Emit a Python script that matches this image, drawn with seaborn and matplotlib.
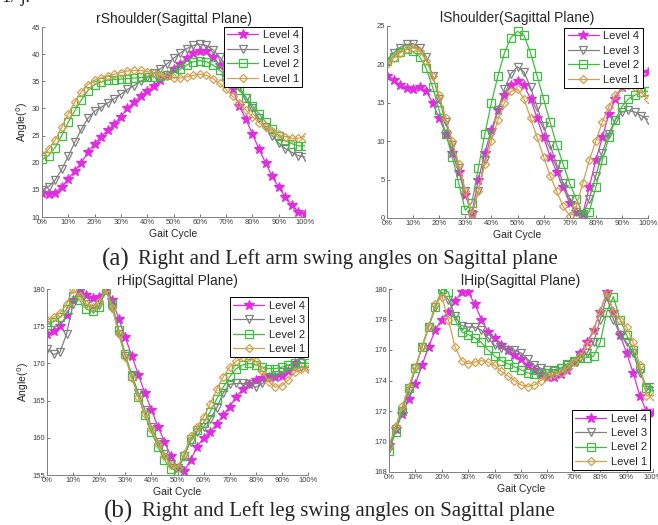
import numpy as np
import matplotlib.pyplot as plt
import seaborn as sns

# gait cycle grid (%), values every 2.5 %
gait = np.arange(0, 100.1, 2.5)
levels = ["Level 4", "Level 3", "Level 2", "Level 1"]

# rShoulder (sagittal)
rsh_l4 = [14.5, 14.3, 14.5, 15.5, 17.0, 18.5, 20.0, 22.0, 23.5, 24.8, 26.0, 27.2, 28.5, 30.0,
          31.2, 32.3, 33.2, 34.2, 35.2, 36.2, 37.2, 38.2, 39.2, 40.2, 40.6, 40.5, 39.5, 38.0,
          36.0, 33.5, 30.5, 28.0, 25.3, 22.5, 20.0, 17.5, 15.5, 13.7, 12.2, 11.0, 10.5]
rsh_l3 = [15.0, 15.6, 16.8, 18.8, 21.2, 23.8, 26.2, 28.2, 29.5, 30.2, 31.0, 31.8, 32.6, 33.5,
          34.2, 35.0, 35.7, 36.5, 37.3, 38.2, 39.2, 40.2, 41.0, 41.6, 41.8, 41.6, 40.8, 39.5,
          38.0, 36.0, 34.0, 32.0, 30.0, 28.2, 26.5, 25.0, 23.6, 22.6, 21.9, 21.3, 21.0]
rsh_l2 = [20.6, 21.3, 22.8, 25.0, 27.5, 29.6, 31.6, 33.3, 34.4, 34.9, 35.2, 35.3, 35.4, 35.5,
          35.6, 35.7, 35.8, 35.8, 35.9, 36.1, 36.5, 37.2, 38.0, 38.6, 38.8, 38.6, 38.0, 37.1,
          36.0, 34.8, 33.4, 32.0, 30.5, 29.0, 27.5, 26.2, 25.0, 24.1, 23.5, 23.1, 23.1]
rsh_l1 = [21.5, 22.5, 24.2, 26.5, 29.0, 31.2, 33.1, 34.4, 35.2, 35.6, 36.0, 36.3, 36.6, 36.9,
          37.0, 37.0, 36.8, 36.5, 36.2, 35.9, 35.6, 35.6, 35.8, 36.1, 36.3, 36.1, 35.5, 34.6,
          33.5, 32.2, 31.0, 29.7, 28.5, 27.4, 26.5, 25.8, 25.2, 24.8, 24.5, 24.5, 24.8]

# lShoulder (sagittal)
lsh_l4 = [18.5, 18.0, 17.3, 16.9, 16.8, 17.0, 16.5, 15.0, 13.0, 11.0, 8.5, 6.0, 3.0, 0.6,
          5.0, 8.5, 11.5, 14.0, 16.0, 17.3, 17.8, 17.3, 15.5, 13.0, 10.5, 8.0, 6.0, 4.0,
          2.0, 0.8, 0.5, 4.0, 7.5, 10.5, 13.5, 15.5, 17.0, 18.0, 18.7, 19.0, 19.0]
lsh_l3 = [20.5, 21.5, 22.2, 22.6, 22.7, 22.2, 21.0, 18.5, 15.5, 12.5, 9.5, 6.5, 3.5, 0.5,
          3.5, 7.5, 11.0, 14.0, 16.8, 18.8, 19.7, 19.0, 17.0, 14.5, 12.0, 9.5, 7.0, 4.5,
          2.5, 0.8, 0.3, 2.5, 5.5, 8.5, 11.0, 12.8, 13.8, 14.0, 13.8, 13.3, 12.8]
lsh_l2 = [20.5, 21.0, 21.6, 22.0, 21.7, 21.0, 19.5, 17.0, 14.0, 11.0, 8.0, 4.5, 1.0, 2.0,
          6.5, 11.0, 15.0, 18.5, 21.5, 23.5, 24.3, 23.8, 21.5, 18.5, 15.5, 12.5, 9.5, 7.0,
          4.5, 2.5, 0.5, 0.8, 4.0, 7.5, 10.5, 12.8, 14.5, 15.5, 16.0, 16.4, 16.5]
lsh_l1 = [20.0, 20.8, 21.5, 22.0, 22.2, 21.8, 20.5, 18.5, 16.0, 13.0, 10.0, 7.0, 3.5, 0.5,
          3.5, 7.0, 10.0, 12.8, 15.0, 16.5, 16.8, 15.5, 13.0, 10.5, 8.0, 5.5, 3.5, 1.5,
          0.3, 1.5, 4.5, 7.5, 10.0, 12.5, 14.5, 16.0, 17.0, 17.3, 17.0, 16.3, 15.5]

# rHip (sagittal)
rhip_l4 = [174.0, 174.3, 175.0, 176.5, 178.5, 180.0, 179.2, 178.8, 178.9, 180.0, 178.5, 176.0,
           173.5, 171.0, 168.5, 166.0, 163.8, 161.5, 159.5, 157.5, 156.0, 155.5, 157.0, 158.8,
           160.0, 160.8, 161.8, 163.0, 164.2, 165.5, 166.5, 167.2, 167.8, 168.0, 168.2, 168.2,
           168.3, 169.0, 170.0, 171.0, 171.8]
rhip_l3 = [172.0, 171.2, 171.5, 174.0, 178.0, 179.5, 178.0, 177.3, 177.8, 180.0, 177.5, 174.0,
           171.0, 168.5, 166.0, 163.8, 161.5, 159.5, 157.8, 156.5, 156.0, 157.5, 159.5, 160.8,
           161.5, 162.5, 164.0, 166.0, 167.2, 167.3, 167.3, 167.2, 166.8, 167.3, 168.0, 168.5,
           168.8, 169.2, 169.5, 169.5, 169.5]
rhip_l2 = [175.2, 175.6, 176.2, 177.3, 179.0, 178.5, 177.3, 177.0, 177.6, 179.8, 178.0, 174.5,
           171.2, 168.3, 165.5, 163.0, 160.8, 158.8, 157.0, 155.8, 155.6, 157.5, 159.8, 161.0,
           162.0, 163.5, 165.2, 166.8, 168.2, 169.3, 169.8, 170.0, 169.8, 169.5, 169.3, 169.3,
           169.5, 169.8, 170.0, 170.1, 170.0]
rhip_l1 = [175.8, 176.2, 176.8, 178.0, 180.0, 179.0, 178.0, 177.6, 178.2, 180.0, 177.5, 174.0,
           170.8, 168.0, 165.5, 163.2, 161.2, 159.2, 157.5, 156.3, 156.0, 157.8, 160.2, 161.5,
           162.8, 164.5, 166.5, 168.2, 169.5, 170.3, 170.8, 170.8, 170.3, 169.0, 167.5, 166.8,
           167.0, 167.8, 168.8, 169.2, 169.3]

# lHip (sagittal)
lhip_l4 = [169.8, 170.8, 171.8, 172.8, 173.8, 175.0, 176.2, 177.3, 178.0, 178.5, 179.2, 179.8,
           179.8, 179.0, 178.0, 177.2, 176.8, 176.3, 176.0, 175.7, 175.4, 175.0, 174.7, 174.4,
           174.2, 174.2, 174.4, 174.7, 175.2, 175.8, 176.5, 177.3, 178.5, 179.8, 178.5, 177.0,
           175.8, 174.5, 173.0, 172.0, 171.9]
lhip_l3 = [169.5, 170.8, 172.0, 173.3, 174.8, 176.2, 177.5, 178.8, 179.8, 179.3, 178.2, 177.6,
           177.5, 177.5, 177.3, 176.8, 176.3, 176.1, 176.0, 176.0, 175.8, 175.4, 175.0, 174.8,
           174.7, 174.7, 174.8, 175.0, 175.2, 175.5, 175.8, 176.5, 178.0, 179.5, 178.0, 177.0,
           176.5, 175.8, 174.5, 173.6, 173.6]
lhip_l2 = [169.4, 170.6, 172.0, 173.5, 174.8, 176.2, 177.5, 178.8, 180.0, 179.8, 178.0, 177.2,
           177.0, 176.8, 176.5, 176.0, 175.6, 175.3, 175.1, 174.9, 174.7, 174.5, 174.4, 174.4,
           174.5, 174.6, 174.8, 175.1, 175.3, 175.5, 175.5, 175.6, 176.5, 178.5, 179.5, 178.0,
           177.0, 176.0, 174.8, 173.5, 173.3]
lhip_l1 = [169.7, 171.0, 172.3, 173.6, 174.9, 176.2, 177.5, 179.0, 179.5, 178.0, 176.2, 175.3,
           175.1, 175.2, 175.3, 175.2, 175.0, 174.6, 174.3, 174.0, 173.7, 173.6, 173.7, 174.0,
           174.3, 174.4, 174.5, 174.8, 175.2, 175.6, 176.3, 177.3, 178.5, 179.8, 178.5, 178.0,
           177.5, 176.5, 175.0, 173.0, 173.0]

colors = ["#e02de0", "#808080", "#3cbf3c", "#d2a04e"]
markers = ["*", "v", "s", "D"]
msizes = [7.5, 5.5, 5.5, 4.5]
filled = [True, False, False, False]

sns.set_style("ticks")
plt.rcParams["font.family"] = ["Liberation Sans", "DejaVu Sans"]

fig = plt.figure(figsize=(6.58, 5.25), dpi=100)

def px_axes(left, top, right, bottom):
    W, H = 658, 525
    return fig.add_axes([left / W, 1 - bottom / H, (right - left) / W, (bottom - top) / H])

panels = [
    (px_axes(42, 27, 305, 217), "rShoulder(Sagittal Plane)", [rsh_l4, rsh_l3, rsh_l2, rsh_l1],
     (10, 45), np.arange(10, 46, 5), True, dict(loc="upper right", bbox_to_anchor=(0.99, 1.0))),
    (px_axes(387, 26, 648, 218), "lShoulder(Sagittal Plane)", [lsh_l4, lsh_l3, lsh_l2, lsh_l1],
     (0, 25), np.arange(0, 26, 5), False, dict(loc="upper right", bbox_to_anchor=(0.98, 0.99))),
    (px_axes(47, 289, 308, 475), "rHip(Sagittal Plane)", [rhip_l4, rhip_l3, rhip_l2, rhip_l1],
     (155, 180), np.arange(155, 181, 5), True, dict(loc="upper right", bbox_to_anchor=(1.0, 0.955))),
    (px_axes(389, 289, 653, 472), "lHip(Sagittal Plane)", [lhip_l4, lhip_l3, lhip_l2, lhip_l1],
     (168, 180), np.arange(168, 181, 2), False, dict(loc="lower right", bbox_to_anchor=(0.99, 0.01))),
]

for ax, title, series, ylim, yticks, ylab, leg in panels:
    for lev, vals, c, m, ms, f in zip(levels, series, colors, markers, msizes, filled):
        sns.lineplot(x=gait, y=vals, ax=ax, color=c, lw=0.9, marker=m,
                     markersize=ms, mfc=c if f else "none",
                     mec=c, mew=0.9, label=lev)
    ax.set_xlim(0, 100)
    ax.set_ylim(*ylim)
    ax.set_xticks(np.arange(0, 101, 10))
    ax.set_xticklabels([f"{v}%" for v in range(0, 101, 10)])
    ax.set_yticks(yticks)
    ax.tick_params(labelsize=5.5, labelcolor="#404040", length=2, width=0.6,
                   direction="in", color="#606060", pad=1.5)
    for s in ["left", "bottom"]:
        ax.spines[s].set_color("#808080")
        ax.spines[s].set_linewidth(0.7)
    sns.despine(ax=ax)
    ax.set_title(title, fontsize=10, pad=3)
    ax.set_xlabel("Gait Cycle", fontsize=7.5, labelpad=2)
    ax.set_ylabel("Angle($^{0}$)" if ylab else "", fontsize=7.5, labelpad=1)
    lg = ax.legend(fontsize=8, frameon=True, fancybox=False, edgecolor="black",
                   framealpha=1, handlelength=2.8, borderpad=0.3, labelspacing=0.4,
                   handletextpad=0.4, borderaxespad=0, numpoints=1, **leg)
    lg.get_frame().set_linewidth(0.7)

serif = ["Liberation Serif", "DejaVu Serif"]
fig.text(2 / 658, 1 + 2 / 525, "1/ j.", family=serif, fontsize=13, va="center")
fig.text(102 / 658, 1 - 259 / 525, "(a)", family=serif, fontsize=18, va="center")
fig.text(138 / 658, 1 - 259 / 525, "Right and Left arm swing angles on Sagittal plane",
         family=serif, fontsize=15, va="center")
fig.text(104 / 658, 1 - 511 / 525, "(b)", family=serif, fontsize=18, va="center")
fig.text(142 / 658, 1 - 511 / 525, "Right and Left leg swing angles on Sagittal plane",
         family=serif, fontsize=15, va="center")

fig.savefig("out.png", dpi=100)
